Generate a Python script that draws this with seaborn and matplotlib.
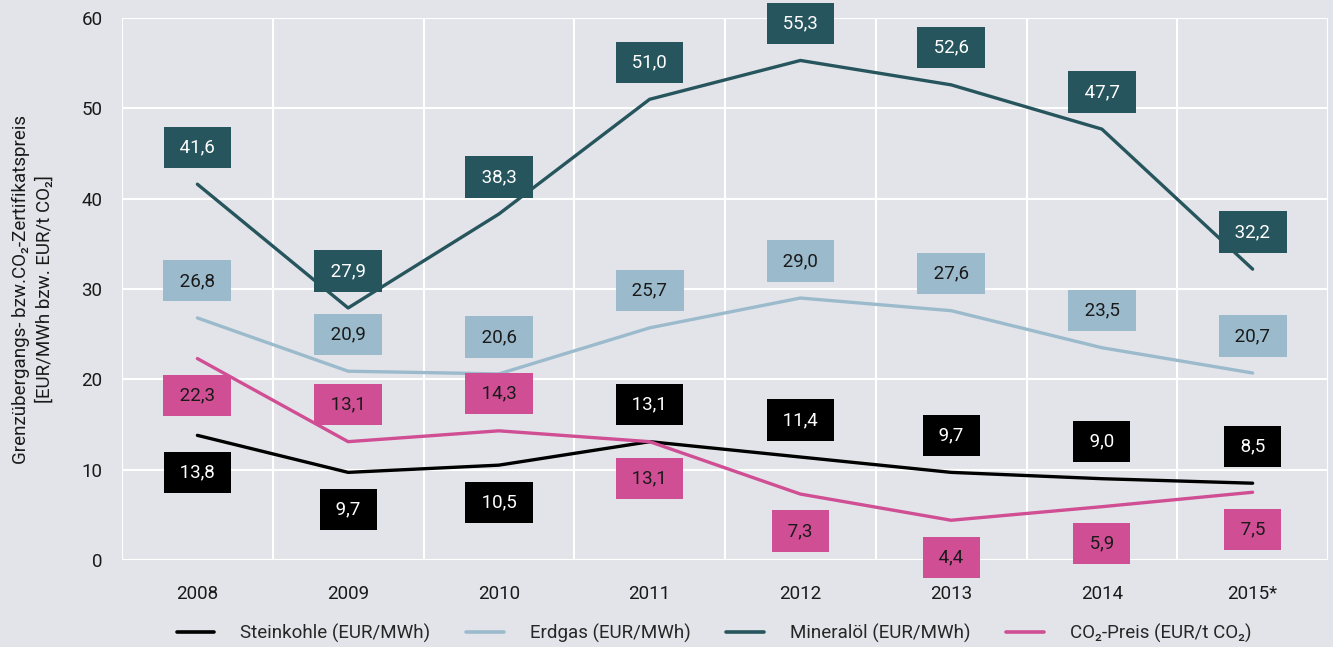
import matplotlib
matplotlib.use("Agg")
import matplotlib.pyplot as plt
import seaborn as sns
import pandas as pd
import numpy as np

years = ["2008", "2009", "2010", "2011", "2012", "2013", "2014", "2015*"]
steinkohle = [13.8, 9.7, 10.5, 13.1, 11.4, 9.7, 9.0, 8.5]
erdgas = [26.8, 20.9, 20.6, 25.7, 29.0, 27.6, 23.5, 20.7]
mineraloel = [41.6, 27.9, 38.3, 51.0, 55.3, 52.6, 47.7, 32.2]
co2 = [22.3, 13.1, 14.3, 13.1, 7.3, 4.4, 5.9, 7.5]

series_names = ["Steinkohle (EUR/MWh)", "Erdgas (EUR/MWh)",
                "Mineralöl (EUR/MWh)", "CO₂-Preis (EUR/t CO₂)"]

# label placement: +1 above the line, -1 below
dir_stein = [-1, -1, -1, 1, 1, 1, 1, 1]
dir_erd = [1] * 8
dir_min = [1] * 8
dir_co2 = [-1, 1, 1, -1, -1, -1, -1, -1]

colors = ["#000000", "#9BBBCC", "#26555D", "#D04E94"]
text_colors = ["white", "#1a1a1a", "white", "#1a1a1a"]
bg = "#E3E4E9"

sns.set_theme(style="darkgrid")
plt.rcParams["font.family"] = ["Roboto", "DejaVu Sans"]

rows = []
for name, vals in zip(series_names, [steinkohle, erdgas, mineraloel, co2]):
    for i, (y, v) in enumerate(zip(years, vals)):
        rows.append({"Jahr": y, "idx": i, "Wert": v, "Serie": name})
df = pd.DataFrame(rows)

fig = plt.figure(figsize=(13.33, 6.47), dpi=100, facecolor=bg)
ax = fig.add_axes([122 / 1333, 87 / 647, (1328 - 122) / 1333, (560 - 18) / 647])
ax.set_facecolor(bg)

sns.lineplot(data=df, x="idx", y="Wert", hue="Serie", palette=colors,
             hue_order=series_names, linewidth=2.4, ax=ax, legend=True, zorder=3)

offset = 4.1
for vals, dirs, c, tc in zip([steinkohle, erdgas, mineraloel, co2],
                             [dir_stein, dir_erd, dir_min, dir_co2], colors, text_colors):
    for i, (v, d) in enumerate(zip(vals, dirs)):
        ax.text(i, v + d * offset, " " + f"{v:.1f}".replace(".", ",") + " ",
                ha="center", va="center", fontsize=13.5, color=tc, zorder=5,
                bbox=dict(boxstyle="square,pad=0.62", fc=c, ec="none"))

ax.set_xlim(-0.5, 7.5)
ax.set_ylim(0, 60)
ax.set_xticks(range(len(years)))
ax.set_xticklabels(years)
ax.set_xticks(np.arange(-0.5, 8, 1), minor=True)
ax.set_yticks(range(0, 61, 10))
ax.grid(False)
ax.grid(True, which="minor", axis="x", color="white", linewidth=1.5)
ax.grid(True, which="major", axis="y", color="white", linewidth=1.5)
ax.set_axisbelow(True)
ax.tick_params(axis="both", which="both", length=0, labelsize=13.5, colors="#1a1a1a")
ax.tick_params(axis="x", pad=18)
ax.tick_params(axis="y", pad=14)
for s in ax.spines.values():
    s.set_visible(False)
ax.set_xlabel("")
ax.set_ylabel("Grenzübergangs- bzw.CO₂-Zertifikatspreis\n[EUR/MWh bzw. EUR/t CO₂]",
              fontsize=13.5, color="#1a1a1a", linespacing=1.4)
ax.yaxis.set_label_coords((54 - 122) / 1206, 0.5)

handles, labels = ax.get_legend_handles_labels()
ax.legend_.remove()
leg = fig.legend(handles, labels, loc="center", bbox_to_anchor=(714 / 1333, 1 - 633 / 647),
                 ncol=4, frameon=False, fontsize=13.5, handlelength=2.0,
                 handletextpad=1.4, columnspacing=1.9)
for h in leg.get_lines():
    h.set_linewidth(2.6)

fig.savefig("out.png", dpi=100, facecolor=bg)
